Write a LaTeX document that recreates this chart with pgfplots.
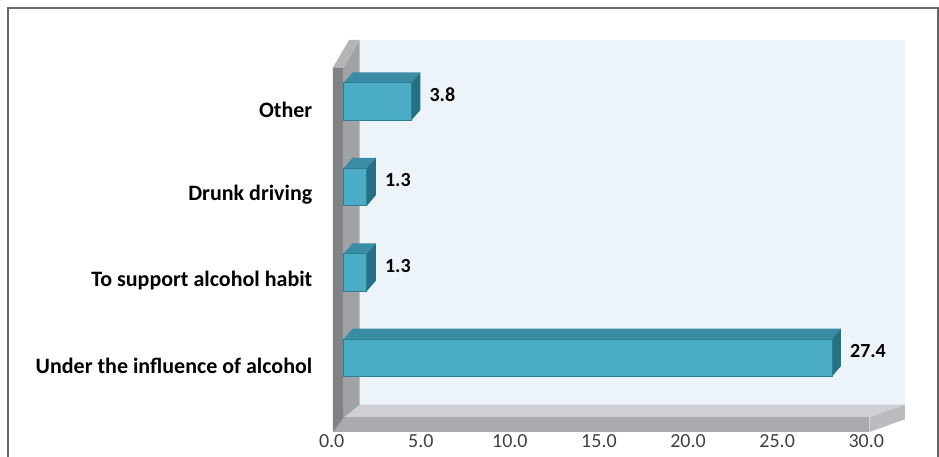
\documentclass[border=0pt]{standalone}
\usepackage{pgfplots}
\pgfplotsset{compat=1.18}
\usepackage{fontspec}
\setmainfont{Carlito}
\definecolor{barfront}{RGB}{75,172,198}
\definecolor{bartop}{RGB}{58,140,165}
\definecolor{barside}{RGB}{38,112,134}
\definecolor{barline}{RGB}{45,125,148}
\definecolor{wallback}{RGB}{236,244,250}
\definecolor{wallgray}{RGB}{160,162,165}
\definecolor{wallfront}{RGB}{128,130,134}
\definecolor{floortop}{RGB}{206,208,211}
\definecolor{floorfront}{RGB}{168,170,174}
\definecolor{ticktext}{RGB}{64,64,64}
\begin{document}
\begin{tikzpicture}
\useasboundingbox (-249.75pt,-18.75pt) rectangle (454.5pt,324pt);
\draw[gray!80!black, line width=1pt] (-243.75pt,-18.75pt) -- (-243.75pt,318pt) -- (453.75pt,318pt) -- (453.75pt,-18.75pt);
\begin{axis}[
  at={(0pt,0pt)}, anchor=south west,
  width=429pt, height=294pt, scale only axis,
  xmin=-0.6, xmax=31.5, ymin=-0.87, ymax=3.72,
  clip=false,
  axis line style={draw=none},
  major tick length=0pt,
  xtick={0,5,...,30},
  ytick={0,1,2,3},
  yticklabels={Under the influence of alcohol, To support alcohol habit, Drunk driving, Other},
  /pgf/number format/assume math mode=true,
  xticklabel={\pgfmathprintnumber[fixed,precision=1,zerofill]{\tick}},
  xticklabel style={font=\fontsize{15}{17}\selectfont, text=ticktext, yshift=2pt, xshift=-9pt},
  yticklabel style={font=\fontsize{16.5}{18}\selectfont\bfseries, text=black, xshift=-12pt, yshift=-6pt},
]
% back wall
\addplot[fill=wallback, draw=none] coordinates {(0.9,-0.55) (31.5,-0.55) (31.5,3.72) (0.9,3.72)} -- cycle;
% floor top
\addplot[fill=floortop, draw=none] coordinates {(-0.6,-0.70) (29.5,-0.70) (31.5,-0.55) (0.9,-0.55)} -- cycle;
% floor front
\addplot[fill=floorfront, draw=none] coordinates {(-0.6,-0.87) (29.5,-0.87) (29.5,-0.70) (-0.6,-0.70)} -- cycle;
% floor right
\addplot[fill=floorfront!80!white, draw=none] coordinates {(29.5,-0.87) (31.5,-0.72) (31.5,-0.55) (29.5,-0.70)} -- cycle;
% left wall side
\addplot[fill=wallgray, draw=none] coordinates {(0,-0.70) (0,3.40) (0.9,3.72) (0.9,-0.55)} -- cycle;
% left wall front
\addplot[fill=wallfront, draw=none] coordinates {(-0.6,-0.87) (-0.6,3.40) (0,3.40) (0,-0.70)} -- cycle;
\addplot[fill=wallgray!80!white, draw=none] coordinates {(-0.6,3.40) (0.3,3.72) (0.9,3.72) (0,3.40)} -- cycle;
% bar top faces
\addplot[fill=bartop, draw=none] coordinates {(0,0.22) (27.4,0.22) (27.9,0.34) (0.5,0.34)} -- cycle;
\addplot[fill=bartop, draw=none] coordinates {(0,1.22) (1.3,1.22) (1.8,1.34) (0.5,1.34)} -- cycle;
\addplot[fill=bartop, draw=none] coordinates {(0,2.22) (1.3,2.22) (1.8,2.34) (0.5,2.34)} -- cycle;
\addplot[fill=bartop, draw=none] coordinates {(0,3.22) (3.8,3.22) (4.3,3.34) (0.5,3.34)} -- cycle;
% bar side faces
\addplot[fill=barside, draw=none] coordinates {(27.4,-0.22) (27.9,-0.10) (27.9,0.34) (27.4,0.22)} -- cycle;
\addplot[fill=barside, draw=none] coordinates {(1.3,0.78) (1.8,0.90) (1.8,1.34) (1.3,1.22)} -- cycle;
\addplot[fill=barside, draw=none] coordinates {(1.3,1.78) (1.8,1.90) (1.8,2.34) (1.3,2.22)} -- cycle;
\addplot[fill=barside, draw=none] coordinates {(3.8,2.78) (4.3,2.90) (4.3,3.34) (3.8,3.22)} -- cycle;
% bar fronts
\addplot[xbar, bar width=0.44, fill=barfront, draw=barline, line width=0.6pt,
  point meta=x,
  nodes near coords={\pgfmathprintnumber[fixed,precision=1,zerofill]{\pgfplotspointmeta}},
  every node near coord/.style={anchor=west, xshift=10pt, yshift=5pt, font=\fontsize{15}{17}\selectfont\bfseries, text=black}]
  coordinates {(27.4,0) (1.3,1) (1.3,2) (3.8,3)};
\end{axis}
\end{tikzpicture}
\end{document}
